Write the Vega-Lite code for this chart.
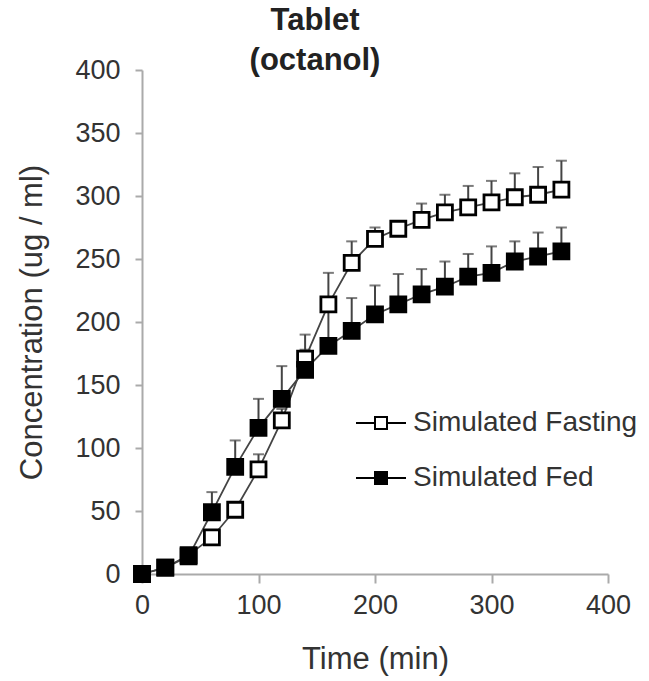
{
  "$schema": "https://vega.github.io/schema/vega-lite/v6.json",
  "width": 466,
  "height": 504,
  "autosize": {"type": "none"},
  "padding": {"left": 142, "top": 70, "right": 41, "bottom": 107},
  "background": "white",
  "title": {
    "text": ["Tablet", "(octanol)"],
    "anchor": "middle",
    "frame": "group",
    "dx": -60,
    "offset": -21,
    "font": "Liberation Sans",
    "fontSize": 31,
    "fontWeight": "bold",
    "lineHeight": 40,
    "color": "#222"
  },
  "config": {
    "view": {"stroke": null},
    "font": "Liberation Sans",
    "axis": {
      "grid": false,
      "domainColor": "#aaaaaa",
      "tickColor": "#aaaaaa",
      "domainWidth": 2,
      "tickWidth": 2,
      "labelFont": "Liberation Sans",
      "titleFont": "Liberation Sans",
      "labelColor": "#333",
      "titleColor": "#333",
      "labelFontSize": 27,
      "titleFontSize": 31,
      "titleFontWeight": "normal",
      "labelFlush": false
    },
    "legend": {
      "labelFont": "Liberation Sans",
      "labelFontSize": 28,
      "labelColor": "#333",
      "labelLimit": 0
    }
  },
  "data": {
    "values": [
      {"series": "Simulated Fasting", "time": 0, "conc": 0, "upper": 0},
      {"series": "Simulated Fasting", "time": 20, "conc": 5, "upper": 5},
      {"series": "Simulated Fasting", "time": 40, "conc": 15, "upper": 15},
      {"series": "Simulated Fasting", "time": 60, "conc": 29, "upper": 30},
      {"series": "Simulated Fasting", "time": 80, "conc": 51, "upper": 53},
      {"series": "Simulated Fasting", "time": 100, "conc": 83, "upper": 95},
      {"series": "Simulated Fasting", "time": 120, "conc": 122, "upper": 131},
      {"series": "Simulated Fasting", "time": 140, "conc": 171, "upper": 190},
      {"series": "Simulated Fasting", "time": 160, "conc": 214, "upper": 239},
      {"series": "Simulated Fasting", "time": 180, "conc": 247, "upper": 264},
      {"series": "Simulated Fasting", "time": 200, "conc": 266, "upper": 275},
      {"series": "Simulated Fasting", "time": 220, "conc": 274, "upper": 280},
      {"series": "Simulated Fasting", "time": 240, "conc": 281, "upper": 294},
      {"series": "Simulated Fasting", "time": 260, "conc": 287, "upper": 301},
      {"series": "Simulated Fasting", "time": 280, "conc": 291, "upper": 308},
      {"series": "Simulated Fasting", "time": 300, "conc": 295, "upper": 312},
      {"series": "Simulated Fasting", "time": 320, "conc": 299, "upper": 318},
      {"series": "Simulated Fasting", "time": 340, "conc": 301, "upper": 323},
      {"series": "Simulated Fasting", "time": 360, "conc": 305, "upper": 328},
      {"series": "Simulated Fed", "time": 0, "conc": 0, "upper": 0},
      {"series": "Simulated Fed", "time": 20, "conc": 5, "upper": 5},
      {"series": "Simulated Fed", "time": 40, "conc": 14, "upper": 15},
      {"series": "Simulated Fed", "time": 60, "conc": 49, "upper": 65},
      {"series": "Simulated Fed", "time": 80, "conc": 85, "upper": 106},
      {"series": "Simulated Fed", "time": 100, "conc": 116, "upper": 139},
      {"series": "Simulated Fed", "time": 120, "conc": 139, "upper": 165},
      {"series": "Simulated Fed", "time": 140, "conc": 162, "upper": 178},
      {"series": "Simulated Fed", "time": 160, "conc": 181, "upper": 210},
      {"series": "Simulated Fed", "time": 180, "conc": 193, "upper": 219},
      {"series": "Simulated Fed", "time": 200, "conc": 206, "upper": 229},
      {"series": "Simulated Fed", "time": 220, "conc": 214, "upper": 238},
      {"series": "Simulated Fed", "time": 240, "conc": 222, "upper": 242},
      {"series": "Simulated Fed", "time": 260, "conc": 228, "upper": 248},
      {"series": "Simulated Fed", "time": 280, "conc": 236, "upper": 254},
      {"series": "Simulated Fed", "time": 300, "conc": 239, "upper": 260},
      {"series": "Simulated Fed", "time": 320, "conc": 248, "upper": 264},
      {"series": "Simulated Fed", "time": 340, "conc": 252, "upper": 271},
      {"series": "Simulated Fed", "time": 360, "conc": 256, "upper": 275}
    ]
  },
  "encoding": {
    "x": {
      "field": "time",
      "type": "quantitative",
      "scale": {"domain": [0, 400], "nice": false},
      "axis": {
        "values": [0, 100, 200, 300, 400],
        "title": "Time (min)",
        "tickSize": 9,
        "labelPadding": 9,
        "titlePadding": 26
      }
    },
    "y": {
      "field": "conc",
      "type": "quantitative",
      "scale": {"domain": [0, 400], "nice": false},
      "axis": {
        "values": [0, 50, 100, 150, 200, 250, 300, 350, 400],
        "title": "Concentration (ug / ml)",
        "tickSize": 7,
        "labelPadding": 15,
        "titlePadding": 26
      }
    }
  },
  "layer": [
    {
      "mark": {"type": "line", "color": "#444", "strokeWidth": 1.8},
      "encoding": {"detail": {"field": "series"}}
    },
    {
      "mark": {"type": "rule", "color": "#444", "strokeWidth": 2},
      "encoding": {"y2": {"field": "upper"}, "detail": {"field": "series"}}
    },
    {
      "mark": {"type": "tick", "orient": "horizontal", "color": "#444", "size": 11, "thickness": 2},
      "encoding": {"y": {"field": "upper", "type": "quantitative"}, "detail": {"field": "series"}}
    },
    {
      "mark": {"type": "point", "shape": "square", "filled": true, "size": 225, "stroke": "black", "strokeWidth": 2.8, "opacity": 1},
      "encoding": {
        "fill": {
          "field": "series",
          "type": "nominal",
          "scale": {"domain": ["Simulated Fasting", "Simulated Fed"], "range": ["white", "black"]},
          "legend": {
            "title": null,
            "orient": "none",
            "legendX": 213,
            "legendY": 327,
            "padding": 0,
            "symbolType": "M-1,0H-0.24M0.24,0H1M-0.24,-0.24H0.24V0.24H-0.24Z",
            "symbolSize": 2500,
            "symbolStrokeColor": "black",
            "symbolStrokeWidth": 2,
            "symbolOpacity": 1,
            "labelOffset": 6,
            "rowPadding": 15
          }
        },
        "order": {"field": "series", "sort": "ascending"}
      }
    }
  ]
}
